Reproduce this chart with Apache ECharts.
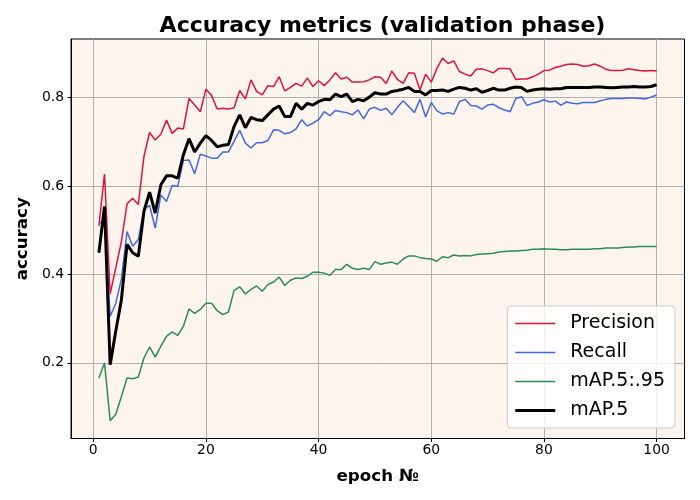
<!DOCTYPE html>
<html>
<head>
<meta charset="utf-8">
<script src="https://cdn.jsdelivr.net/npm/echarts@6/dist/echarts.min.js"></script>
<style>html,body{margin:0;padding:0;background:#fff}#c{width:700px;height:500px}</style>
</head>
<body>
<div id="c"></div>
<script>
const epochs = Array.from({length: 100}, (_, i) => i + 1);
const precision = [0.51,0.627,0.356,0.415,0.475,0.56,0.572,0.558,0.667,0.721,0.704,0.717,0.749,0.719,0.731,0.729,0.798,0.783,0.768,0.819,0.805,0.774,0.776,0.774,0.777,0.816,0.797,0.84,0.814,0.806,0.827,0.825,0.847,0.815,0.823,0.832,0.826,0.844,0.825,0.838,0.827,0.840,0.856,0.842,0.846,0.835,0.835,0.836,0.840,0.847,0.846,0.832,0.860,0.841,0.832,0.856,0.855,0.817,0.853,0.835,0.866,0.889,0.877,0.883,0.859,0.853,0.849,0.864,0.865,0.861,0.856,0.866,0.866,0.865,0.841,0.842,0.842,0.847,0.853,0.861,0.862,0.868,0.871,0.875,0.876,0.875,0.871,0.872,0.876,0.871,0.864,0.861,0.861,0.862,0.865,0.863,0.861,0.860,0.861,0.860];
const recall = [0.514,0.525,0.305,0.335,0.39,0.497,0.464,0.479,0.547,0.556,0.505,0.580,0.565,0.601,0.599,0.658,0.659,0.628,0.672,0.668,0.663,0.663,0.677,0.677,0.701,0.726,0.697,0.686,0.698,0.698,0.703,0.727,0.726,0.718,0.721,0.729,0.750,0.736,0.742,0.750,0.768,0.759,0.771,0.768,0.766,0.761,0.772,0.752,0.774,0.778,0.771,0.776,0.761,0.778,0.793,0.780,0.766,0.796,0.756,0.789,0.770,0.763,0.766,0.763,0.791,0.796,0.782,0.781,0.774,0.783,0.785,0.777,0.772,0.768,0.798,0.802,0.782,0.787,0.790,0.795,0.790,0.792,0.783,0.790,0.787,0.786,0.789,0.789,0.789,0.793,0.796,0.798,0.798,0.798,0.799,0.799,0.798,0.797,0.801,0.806];
const map5095 = [0.166,0.200,0.069,0.084,0.124,0.166,0.164,0.168,0.211,0.236,0.213,0.238,0.260,0.270,0.262,0.283,0.322,0.312,0.321,0.335,0.335,0.318,0.309,0.315,0.364,0.372,0.356,0.366,0.374,0.362,0.377,0.383,0.394,0.375,0.387,0.392,0.391,0.396,0.405,0.405,0.403,0.398,0.411,0.411,0.423,0.414,0.411,0.414,0.411,0.429,0.423,0.426,0.428,0.423,0.435,0.442,0.442,0.438,0.436,0.435,0.430,0.440,0.438,0.444,0.442,0.443,0.442,0.445,0.446,0.447,0.448,0.451,0.452,0.453,0.453,0.454,0.455,0.457,0.457,0.458,0.457,0.457,0.456,0.456,0.457,0.457,0.457,0.457,0.458,0.458,0.460,0.460,0.460,0.461,0.462,0.462,0.463,0.463,0.463,0.463];
const map50 = [0.449,0.554,0.196,0.272,0.343,0.468,0.449,0.441,0.543,0.586,0.539,0.603,0.623,0.623,0.618,0.671,0.707,0.677,0.697,0.714,0.703,0.689,0.692,0.694,0.735,0.761,0.732,0.755,0.750,0.748,0.761,0.774,0.781,0.757,0.757,0.787,0.774,0.787,0.783,0.791,0.796,0.795,0.808,0.802,0.808,0.791,0.796,0.793,0.801,0.811,0.808,0.808,0.814,0.816,0.819,0.823,0.814,0.814,0.806,0.816,0.816,0.817,0.814,0.819,0.823,0.821,0.817,0.820,0.812,0.816,0.821,0.817,0.817,0.821,0.824,0.823,0.814,0.817,0.819,0.820,0.819,0.820,0.820,0.823,0.823,0.823,0.823,0.823,0.824,0.824,0.823,0.822,0.823,0.824,0.824,0.825,0.824,0.824,0.825,0.829];
const xTicks = [0, 20, 40, 60, 80, 100];
const yTicks = [0.2, 0.4, 0.6, 0.8];
const seriesNames = ['Precision', 'Recall', 'mAP.5:.95', 'mAP.5'];

const font = 'DejaVu Sans';
const pairs = arr => epochs.map((e, i) => [e, arr[i]]);
const chart = echarts.init(document.getElementById('c'), null, {renderer: 'canvas'});
const mk = (name, data, color, width) => ({
  name, type: 'line', data: pairs(data), symbol: 'none', showSymbol: false,
  lineStyle: {color, width}, itemStyle: {color}, animation: false, z: 3
});
const thin = 'path://M0,0h40v1.6h-40z';
const thick = 'path://M0,0h40v3.2h-40z';
chart.setOption({
  animation: false,
  backgroundColor: '#ffffff',
  title: {
    text: 'Accuracy metrics (validation phase)', left: 377.5, top: 10, textAlign: 'center',
    textStyle: {fontFamily: font, fontSize: 22, fontWeight: 'bold', color: '#000'}
  },
  grid: {left: 71, right: 15.5, top: 39, bottom: 61.5, show: true, backgroundColor: '#fdf4ed', borderColor: '#000', borderWidth: 1},
  legend: {
    orient: 'vertical', right: 25, bottom: 72,
    data: [
      {name: seriesNames[0], icon: thin},
      {name: seriesNames[1], icon: thin},
      {name: seriesNames[2], icon: thin},
      {name: seriesNames[3], icon: thick}
    ],
    itemWidth: 40, itemHeight: 14, itemGap: 10, symbolKeepAspect: true,
    padding: [8, 10, 8, 8],
    backgroundColor: 'rgba(255,255,255,0.8)', borderColor: '#cccccc', borderWidth: 1, borderRadius: 4,
    textStyle: {fontFamily: font, fontSize: 19, color: '#000', padding: [0, 0, 0, 10]}
  },
  xAxis: {
    type: 'value', min: -3.95, max: 104.95,
    name: 'epoch №', nameLocation: 'middle', nameGap: 30,
    nameTextStyle: {fontFamily: font, fontSize: 16.7, fontWeight: 'bold', color: '#000'},
    axisLine: {show: true, onZero: false, lineStyle: {color: '#000', width: 1}},
    axisTick: {show: true, length: 3.5, customValues: xTicks, lineStyle: {color: '#000'}},
    axisLabel: {customValues: xTicks, fontFamily: font, fontSize: 13.9, color: '#000', margin: 5},
    splitLine: {show: true, lineStyle: {color: '#b0b0b0', width: 1}}
  },
  yAxis: {
    type: 'value', min: 0.029, max: 0.9325,
    name: 'accuracy', nameLocation: 'middle', nameGap: 36, nameRotate: 90,
    nameTextStyle: {fontFamily: font, fontSize: 16.7, fontWeight: 'bold', color: '#000'},
    axisLine: {show: true, onZero: false, lineStyle: {color: '#000', width: 1}},
    axisTick: {show: true, length: 3.5, customValues: yTicks, lineStyle: {color: '#000'}},
    axisLabel: {customValues: yTicks, fontFamily: font, fontSize: 13.9, color: '#000', margin: 7,
      formatter: v => v.toFixed(1)},
    splitLine: {show: true, lineStyle: {color: '#b0b0b0', width: 1}}
  },
  series: [
    mk(seriesNames[0], precision, '#dc143c', 1.5),
    mk(seriesNames[1], recall, '#4169e1', 1.5),
    mk(seriesNames[2], map5095, '#2e8b57', 1.5),
    mk(seriesNames[3], map50, '#000000', 3)
  ]
});
</script>
</body>
</html>
